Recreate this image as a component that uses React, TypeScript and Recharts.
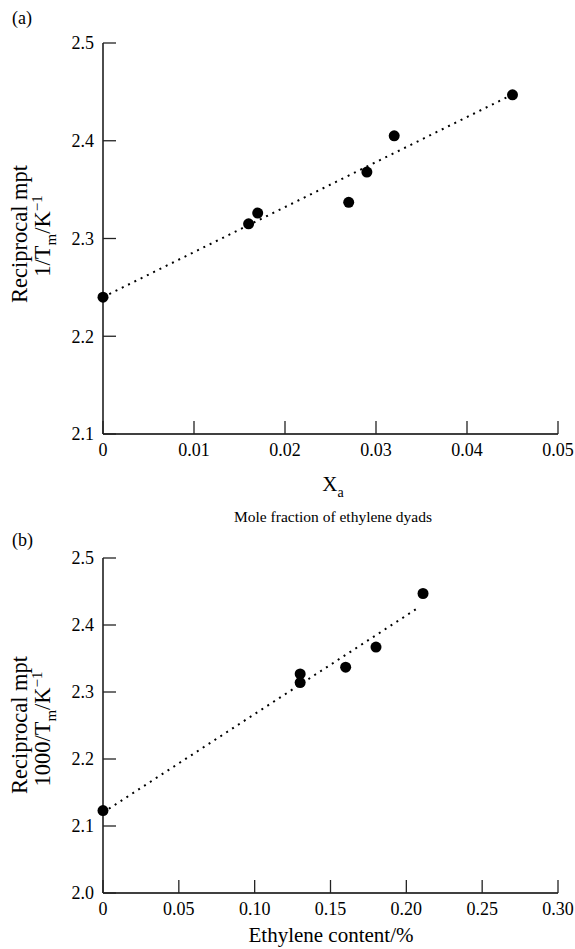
import { ScatterChart, Scatter, XAxis, YAxis } from 'recharts'

const serif = '"Liberation Serif", "Times New Roman", serif'

// (a) reciprocal mpt against mole fraction of ethylene dyads
const dyadFraction = [0, 0.016, 0.017, 0.027, 0.029, 0.032, 0.045]
const recipMptA = [2.24, 2.315, 2.326, 2.337, 2.368, 2.405, 2.447]
const fitXA = [0, 0.0445]
const fitYA = [2.24, 2.445]
const xTicksA = [0, 0.01, 0.02, 0.03, 0.04, 0.05]
const xLabelsA = ['0', '0.01', '0.02', '0.03', '0.04', '0.05']
const yTicksA = [2.1, 2.2, 2.3, 2.4, 2.5]

// (b) reciprocal mpt against ethylene content
const ethyleneContent = [0, 0.13, 0.13, 0.16, 0.18, 0.211]
const recipMptB = [2.123, 2.327, 2.314, 2.337, 2.367, 2.447]
const fitXB = [0, 0.208]
const fitYB = [2.12, 2.426]
const xTicksB = [0, 0.05, 0.1, 0.15, 0.2, 0.25, 0.3]
const xLabelsB = ['0', '0.05', '0.10', '0.15', '0.20', '0.25', '0.30']
const yTicksB = [2.0, 2.1, 2.2, 2.3, 2.4, 2.5]

const zip = (xs: number[], ys: number[]) => xs.map((x, i) => ({ x, y: ys[i] }))

const axisLine = { stroke: '#000', strokeWidth: 1.4 }
const TICK_LEN = 13

const Dot = (p: any) => <circle cx={p.cx} cy={p.cy} r={5.5} fill="#000" />
const NoDot = () => <g />

// ticks point into the plot, labels sit outside
const makeXTick = (labels: string[]) => (p: any) => (
  <g>
    <line x1={p.x} y1={p.y} x2={p.x} y2={p.y - TICK_LEN} stroke="#222" strokeWidth={1.3} />
    <text x={p.x} y={p.y + 9} dy="0.71em" textAnchor="middle" fontSize={18} fontFamily={serif} fill="#000">
      {labels[p.index] ?? String(p.payload.value)}
    </text>
  </g>
)

const YTick = (p: any) => (
  <g>
    <line x1={p.x} y1={p.y} x2={p.x + TICK_LEN} y2={p.y} stroke="#222" strokeWidth={1.3} />
    <text x={p.x - 9} y={p.y} dy="0.355em" textAnchor="end" fontSize={18} fontFamily={serif} fill="#000">
      {Number(p.payload.value).toFixed(1)}
    </text>
  </g>
)

interface PanelProps {
  points: { x: number; y: number }[]
  fit: { x: number; y: number }[]
  xTicks: number[]
  xLabels: string[]
  yTicks: number[]
  height: number
  margin: { top: number; right: number; bottom: number; left: number }
}

function Panel({ points, fit, xTicks, xLabels, yTicks, height, margin }: PanelProps) {
  return (
    <ScatterChart width={575} height={height} margin={margin} style={{ fontFamily: serif }}>
      <XAxis
        type="number"
        dataKey="x"
        domain={[xTicks[0], xTicks[xTicks.length - 1]]}
        ticks={xTicks}
        interval={0}
        height={30}
        axisLine={axisLine}
        tickLine={false}
        tickSize={0}
        tickMargin={0}
        tick={makeXTick(xLabels)}
      />
      <YAxis
        type="number"
        dataKey="y"
        domain={[yTicks[0], yTicks[yTicks.length - 1]]}
        ticks={yTicks}
        interval={0}
        width={60}
        axisLine={axisLine}
        tickLine={false}
        tickSize={0}
        tickMargin={0}
        tick={YTick}
      />
      <Scatter
        data={fit}
        line={{ stroke: '#000', strokeWidth: 2, strokeDasharray: '2 5' }}
        shape={NoDot}
        legendType="none"
        isAnimationActive={false}
      />
      <Scatter data={points} shape={Dot} isAnimationActive={false} />
    </ScatterChart>
  )
}

export default function App() {
  return (
    <div style={{ position: 'absolute', left: 0, top: 0, width: 575, height: 949, background: '#fff' }}>
      <div style={{ position: 'absolute', left: 0, top: 0 }}>
        <Panel
          points={zip(dyadFraction, recipMptA)}
          fit={zip(fitXA, fitYA)}
          xTicks={xTicksA}
          xLabels={xLabelsA}
          yTicks={yTicksA}
          height={520}
          margin={{ top: 43, right: 17, bottom: 56, left: 43 }}
        />
      </div>
      <div style={{ position: 'absolute', left: 0, top: 520 }}>
        <Panel
          points={zip(ethyleneContent, recipMptB)}
          fit={zip(fitXB, fitYB)}
          xTicks={xTicksB}
          xLabels={xLabelsB}
          yTicks={yTicksB}
          height={429}
          margin={{ top: 38, right: 17, bottom: 26, left: 43 }}
        />
      </div>
      <svg
        width={575}
        height={949}
        style={{ position: 'absolute', left: 0, top: 0, pointerEvents: 'none' }}
        fontFamily={serif}
        fill="#000"
      >
        <text x={12} y={24} fontSize={18}>(a)</text>
        <text transform="translate(27,234) rotate(-90)" textAnchor="middle" fontSize={22.5}>
          Reciprocal mpt
        </text>
        <text transform="translate(50,236) rotate(-90)" textAnchor="middle" fontSize={22.5}>
          1/T<tspan dy={6} fontSize={15}>m</tspan>
          <tspan dy={-6}>/K</tspan>
          <tspan dy={-8} fontSize={15}>−1</tspan>
        </text>
        <text x={333} y={491} textAnchor="middle" fontSize={21}>
          X<tspan dy={6} fontSize={14}>a</tspan>
        </text>
        <text x={333} y={522} textAnchor="middle" fontSize={15.5}>
          Mole fraction of ethylene dyads
        </text>

        <text x={12} y={546} fontSize={18}>(b)</text>
        <text transform="translate(27,725) rotate(-90)" textAnchor="middle" fontSize={22.5}>
          Reciprocal mpt
        </text>
        <text transform="translate(50,729) rotate(-90)" textAnchor="middle" fontSize={22.5}>
          1000/T<tspan dy={6} fontSize={15}>m</tspan>
          <tspan dy={-6}>/K</tspan>
          <tspan dy={-8} fontSize={15}>−1</tspan>
        </text>
        <text x={331} y={942} textAnchor="middle" fontSize={21}>
          Ethylene content/%
        </text>
      </svg>
    </div>
  )
}
